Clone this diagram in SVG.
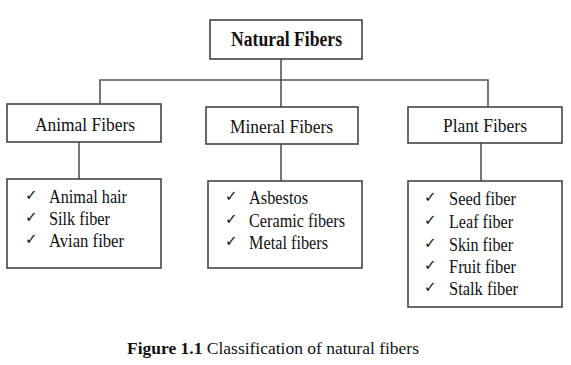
<svg xmlns="http://www.w3.org/2000/svg" width="571" height="365" viewBox="0 0 571 365">
<style>
.box{fill:#fff;stroke:#444;stroke-width:1.6}
.ln{fill:none;stroke:#555;stroke-width:1.6}
.t{font-family:"Liberation Serif","Times New Roman",serif;font-size:19.5px;fill:#111}
.tb{font-family:"Liberation Serif","Times New Roman",serif;font-size:20px;font-weight:bold;fill:#111}
.it{font-family:"Liberation Serif","Times New Roman",serif;font-size:19px;fill:#111}
.ck{font-family:"DejaVu Sans",sans-serif;font-size:15px;fill:#111}
</style>
<rect width="571" height="365" fill="#fff"/>
<g id="connectors">
<path class="ln" d="M281 59 V107"/>
<path class="ln" d="M100 104 V80 H488 V107"/>
<path class="ln" d="M79 142 V179"/>
<path class="ln" d="M281 144 V181"/>
<path class="ln" d="M481 143 V181"/>
</g>
<g id="natural">
<rect class="box" x="210" y="20" width="152" height="39"/>
<text class="tb" x="286.5" y="46" text-anchor="middle" textLength="111" lengthAdjust="spacingAndGlyphs">Natural Fibers</text>
</g>
<g id="animal">
<rect class="box" x="7" y="104" width="154" height="38"/>
<text class="t" x="85" y="131" text-anchor="middle" textLength="100" lengthAdjust="spacingAndGlyphs">Animal Fibers</text>
</g>
<g id="mineral">
<rect class="box" x="206" y="107" width="152" height="37"/>
<text class="t" x="281.5" y="133" text-anchor="middle" textLength="103" lengthAdjust="spacingAndGlyphs">Mineral Fibers</text>
</g>
<g id="plant">
<rect class="box" x="408" y="107" width="154" height="36"/>
<text class="t" x="485" y="132" text-anchor="middle" textLength="84" lengthAdjust="spacingAndGlyphs">Plant Fibers</text>
</g>
<g id="animal-list">
<rect class="box" x="7" y="179" width="154" height="89"/>
<text class="ck" x="25" y="200">✓</text>
<text class="ck" x="25" y="222">✓</text>
<text class="ck" x="25" y="244">✓</text>
<text class="it" x="49" y="203" textLength="78" lengthAdjust="spacingAndGlyphs">Animal hair</text>
<text class="it" x="49" y="225" textLength="61" lengthAdjust="spacingAndGlyphs">Silk fiber</text>
<text class="it" x="49" y="247" textLength="75" lengthAdjust="spacingAndGlyphs">Avian fiber</text>
</g>
<g id="mineral-list">
<rect class="box" x="208" y="181" width="154" height="87"/>
<text class="ck" x="225" y="201">✓</text>
<text class="ck" x="225" y="224">✓</text>
<text class="ck" x="225" y="246">✓</text>
<text class="it" x="249" y="204" textLength="59" lengthAdjust="spacingAndGlyphs">Asbestos</text>
<text class="it" x="249" y="227" textLength="96" lengthAdjust="spacingAndGlyphs">Ceramic fibers</text>
<text class="it" x="249" y="249" textLength="79" lengthAdjust="spacingAndGlyphs">Metal fibers</text>
</g>
<g id="plant-list">
<rect class="box" x="408" y="181" width="154" height="126"/>
<text class="ck" x="424" y="202">✓</text>
<text class="ck" x="424" y="225">✓</text>
<text class="ck" x="424" y="248">✓</text>
<text class="ck" x="424" y="270">✓</text>
<text class="ck" x="424" y="292">✓</text>
<text class="it" x="449" y="205" textLength="67" lengthAdjust="spacingAndGlyphs">Seed fiber</text>
<text class="it" x="449" y="228" textLength="64" lengthAdjust="spacingAndGlyphs">Leaf fiber</text>
<text class="it" x="449" y="251" textLength="64" lengthAdjust="spacingAndGlyphs">Skin fiber</text>
<text class="it" x="449" y="273" textLength="67" lengthAdjust="spacingAndGlyphs">Fruit fiber</text>
<text class="it" x="449" y="295" textLength="69" lengthAdjust="spacingAndGlyphs">Stalk fiber</text>
</g>
<g id="caption">
<text x="127" y="354" textLength="292" lengthAdjust="spacingAndGlyphs" style="font-family:'Liberation Serif','Times New Roman',serif;font-size:17px;fill:#111"><tspan font-weight="bold">Figure 1.1</tspan> Classification of natural fibers</text>
</g>
</svg>
